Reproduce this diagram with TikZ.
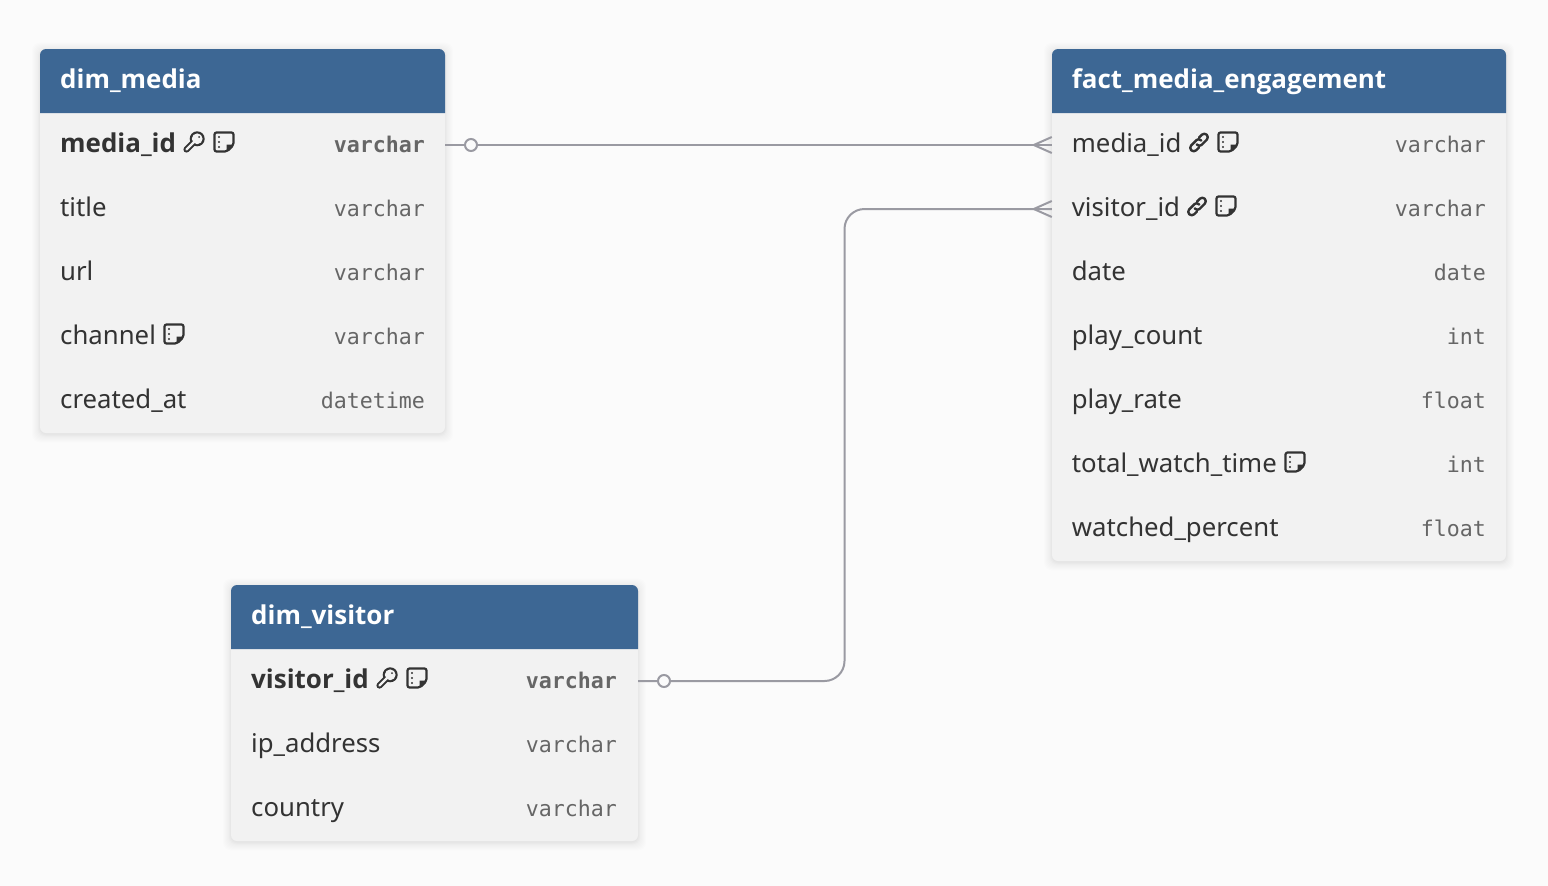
\documentclass[tikz,border=0pt]{standalone}
\usepackage{fontspec}
\setmainfont{Noto Sans}
\newfontfamily\boldfam{Open Sans}
\newfontfamily\typefont{DejaVu Sans Mono}
\definecolor{pagebg}{HTML}{FBFBFB}
\definecolor{headbg}{HTML}{3D6794}
\definecolor{rowbg}{HTML}{F2F2F2}
\definecolor{ink}{HTML}{333333}
\definecolor{typeink}{HTML}{666666}
\definecolor{wire}{HTML}{9A9AA2}
\tikzset{
  x=1pt,y=-1pt,
  headlabel/.style={anchor=base west,inner sep=0pt,text=white,font=\fontsize{25.95}{30}\boldfam\bfseries},
  field/.style={anchor=base west,inner sep=0pt,text=ink,font=\fontsize{25.75}{30}\selectfont},
  keyfield/.style={field,font=\fontsize{25.95}{30}\boldfam\bfseries},
  typelabel/.style={anchor=base east,inner sep=0pt,text=typeink,font=\fontsize{21.6}{26}\typefont},
  keytype/.style={typelabel,font=\fontsize{21.6}{26}\typefont\bfseries},
  rowbox/.style={inner sep=0pt,minimum height=64pt},
  relation/.style={draw=wire,line width=2pt},
  optional/.style={circle,draw=wire,fill=pagebg,line width=2pt,minimum size=12pt,inner sep=0pt},
  notei/.pic={
    \draw[ink,line width=2.2pt,rounded corners=2pt,line join=round] (-9.5,-9.5) -- (9.5,-9.5) -- (9.5,3) -- (3,9.5) -- (-9.5,9.5) -- cycle;
    \fill[ink,line join=round] (9.5,2.5) -- (2.5,2.5) -- (2.5,9.5) -- cycle;
    \fill[ink] (-5,-5) circle (1.1) (-5,0) circle (1.1) (-5,5) circle (1.1);
  },
  keyi/.pic={
    \draw[ink,line width=6.2pt,line cap=round] (3,-3) -- (-7.5,7.5);
    \fill[ink] (3.2,-3.2) circle (7.5);
    \fill[rowbg] (3.2,-3.2) circle (5.4);
    \draw[rowbg,line width=2.2pt,line cap=round] (0,0) -- (-7.5,7.5);
    \fill[ink] (5,-5) circle (1);
  },
  linki/.pic={
    \begin{scope}[x={(0.707pt,0.707pt)},y={(0.707pt,-0.707pt)}]
    \draw[ink,line width=2.4pt,line cap=round,line join=round]
      (-3,-0.3) .. controls (-3,2) and (-2,3.5) .. (0,3.5) -- (7.5,3.5)
      .. controls (9.4,3.5) and (11,1.9) .. (11,0)
      .. controls (11,-1.9) and (9.4,-3.5) .. (7.5,-3.5) -- (3.5,-3.5);
    \draw[ink,line width=2.4pt,line cap=round,line join=round]
      (3,0.3) .. controls (3,-2) and (2,-3.5) .. (0,-3.5) -- (-7.5,-3.5)
      .. controls (-9.4,-3.5) and (-11,-1.9) .. (-11,0)
      .. controls (-11,1.9) and (-9.4,3.5) .. (-7.5,3.5) -- (-3.5,3.5);
    \end{scope}
  },
}
\newcommand{\softshadow}[4]{%
  \foreach \g in {1,...,8}{
    \fill[black,opacity=0.008,rounded corners=8pt] (#1-\g,#2-\g+1.5) rectangle (#3+\g,#4+\g+1.5);
  }
  \foreach \g in {0,1,2}{
    \fill[black,opacity=0.008,rounded corners=7pt] (#1-\g,#2-\g+1.5) rectangle (#3+\g,#4+\g+1.5);
  }}
\newcommand{\tablebody}[4]{% left top right bottom
  \softshadow{#1}{#2}{#3}{#4}
  \fill[rowbg] (#1,#2+64) {[rounded corners=6pt] -- (#1,#4) -- (#3,#4)} -- (#3,#2+64) -- cycle;
  \fill[headbg] (#1,#2+64) {[rounded corners=6pt] -- (#1,#2) -- (#3,#2)} -- (#3,#2+64) -- cycle;
}
\begin{document}
\begin{tikzpicture}
\useasboundingbox (0,0) rectangle (1548,886);
\fill[pagebg] (0,0) rectangle (1548,886);

% dim_media
\tablebody{40}{49}{445}{433}
\node[headlabel] (dmh) at (60,88) {dim\_media};
\node[rowbox,minimum width=405pt] (dm1) at (242.5,145) {};
\node[rowbox,minimum width=405pt] (dm2) at (242.5,209) {};
\node[rowbox,minimum width=405pt] (dm3) at (242.5,273) {};
\node[rowbox,minimum width=405pt] (dm4) at (242.5,337) {};
\node[rowbox,minimum width=405pt] (dm5) at (242.5,401) {};
\node[keyfield] (dm1n) at (60,152) {media\_id};
\node[field] (dm2n) at (60,216) {title};
\node[field] (dm3n) at (60,280) {url};
\node[field] (dm4n) at (60,344) {channel};
\node[field] (dm5n) at (60,408) {created\_at};
\node[keytype] (dm1t) at (425,152) {varchar};
\node[typelabel] (dm2t) at (425,216) {varchar};
\node[typelabel] (dm3t) at (425,280) {varchar};
\node[typelabel] (dm4t) at (425,344) {varchar};
\node[typelabel] (dm5t) at (425,408) {datetime};
\pic at (194,142) {keyi};
\pic at (224,142) {notei};
\pic at (174,334) {notei};

% fact_media_engagement
\tablebody{1052}{49}{1506}{561}
\node[headlabel] (fmh) at (1071.7,88) {fact\_media\_engagement};
\node[rowbox,minimum width=454pt] (fm1) at (1279,145) {};
\node[rowbox,minimum width=454pt] (fm2) at (1279,209) {};
\node[rowbox,minimum width=454pt] (fm3) at (1279,273) {};
\node[rowbox,minimum width=454pt] (fm4) at (1279,337) {};
\node[rowbox,minimum width=454pt] (fm5) at (1279,401) {};
\node[rowbox,minimum width=454pt] (fm6) at (1279,465) {};
\node[rowbox,minimum width=454pt] (fm7) at (1279,529) {};
\node[field] (fm1n) at (1071.7,152) {media\_id};
\node[field] (fm2n) at (1071.7,216) {visitor\_id};
\node[field] (fm3n) at (1071.7,280) {date};
\node[field] (fm4n) at (1071.7,344) {play\_count};
\node[field] (fm5n) at (1071.7,408) {play\_rate};
\node[field] (fm6n) at (1071.7,472) {total\_watch\_time};
\node[field] (fm7n) at (1071.7,536) {watched\_percent};
\node[typelabel] (fm1t) at (1486,152) {varchar};
\node[typelabel] (fm2t) at (1486,216) {varchar};
\node[typelabel] (fm3t) at (1486,280) {date};
\node[typelabel] (fm4t) at (1486,344) {int};
\node[typelabel] (fm5t) at (1486,408) {float};
\node[typelabel] (fm6t) at (1486,472) {int};
\node[typelabel] (fm7t) at (1486,536) {float};
\pic at (1199,142.5) {linki};
\pic at (1228,142) {notei};
\pic at (1197,206.5) {linki};
\pic at (1226,206) {notei};
\pic at (1295,462) {notei};

% dim_visitor
\tablebody{231}{585}{638}{841}
\node[headlabel] (dvh) at (251,624) {dim\_visitor};
\node[rowbox,minimum width=407pt] (dv1) at (434.5,681) {};
\node[rowbox,minimum width=407pt] (dv2) at (434.5,745) {};
\node[rowbox,minimum width=407pt] (dv3) at (434.5,809) {};
\node[keyfield] (dv1n) at (251,688) {visitor\_id};
\node[field] (dv2n) at (251,752) {ip\_address};
\node[field] (dv3n) at (251,816) {country};
\node[keytype] (dv1t) at (617,688) {varchar};
\node[typelabel] (dv2t) at (617,752) {varchar};
\node[typelabel] (dv3t) at (617,816) {varchar};
\pic at (387,678) {keyi};
\pic at (417,678) {notei};

% relations
\coordinate (bend) at (844.5,445);
\draw[relation] (dm1.east) -- (fm1.west);
\draw[relation,rounded corners=20pt] (dv1.east) -| (bend) |- (fm2.west);
\draw[relation] (fm1.west) ++(0,-8) -- ++(-18,8) -- ++(18,8);
\draw[relation] (fm2.west) ++(0,-8) -- ++(-18,8) -- ++(18,8);
\node[optional] (c1) at (471,145) {};
\node[optional] (c2) at (664,681) {};
\end{tikzpicture}
\end{document}
